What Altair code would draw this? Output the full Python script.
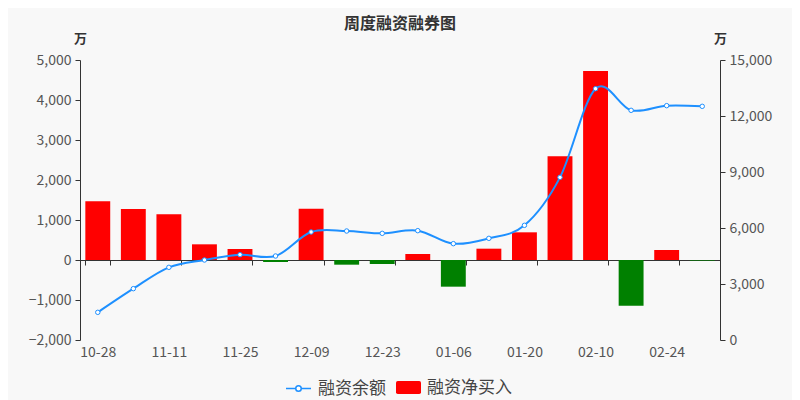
import altair as alt
import pandas as pd

dates = ["10-28", "11-04", "11-11", "11-18", "11-25", "12-02", "12-09", "12-16", "12-23",
         "12-30", "01-06", "01-13", "01-20", "01-27", "02-10", "02-17", "02-24", "03-03"]
net_buy = [1467, 1275, 1142, 392, 275, -50, 1283, -117, -100,
           150, -667, 283, 692, 2592, 4725, -1142, 250, -15]
balance = [1482, 2750, 3893, 4286, 4571, 4500, 5786, 5839, 5714,
           5857, 5161, 5446, 6143, 8714, 13464, 12304, 12554, 12518]
label_dates = dates[::2]
left_ticks = [-2000, -1000, 0, 1000, 2000, 3000, 4000, 5000]
right_ticks = [0, 3000, 6000, 9000, 12000, 15000]

df = pd.DataFrame({"date": dates, "net": net_buy, "bal": balance,
                   "s1": "融资余额", "s2": "融资净买入"})

FONT = "Noto Sans CJK SC"
LABEL = "#555555"
AXIS = "#333333"

x_scale = alt.Scale(domain=dates, paddingInner=0.3, paddingOuter=0.15)
x_axis = alt.Axis(values=label_dates, tickBand="extent", labelAngle=0, offset=-80,
                  labelPadding=80, tickSize=5, domainColor=AXIS, tickColor=AXIS,
                  labelColor=LABEL, labelFont=FONT, labelFontSize=14, title=None, grid=False)

line_sym = "M-1,0L-0.22,0M0.22,0L1,0M-0.22,0A0.22,0.22 0 1 1 0.22,0A0.22,0.22 0 1 1 -0.22,0"
bar_sym = ("M-0.86,-0.52L0.86,-0.52Q1,-0.52 1,-0.38L1,0.38Q1,0.52 0.86,0.52L-0.86,0.52"
           "Q-1,0.52 -1,0.38L-1,-0.38Q-1,-0.52 -0.86,-0.52Z")

base = alt.Chart(df)

bars = base.mark_bar().encode(
    x=alt.X("date:N", scale=x_scale, axis=x_axis),
    y=alt.Y("net:Q", scale=alt.Scale(domain=[-2000, 5000], nice=False),
            axis=alt.Axis(values=left_ticks, format=",d", grid=False, domainColor=AXIS,
                          tickColor=AXIS, tickSize=5, labelColor=LABEL, labelFont=FONT,
                          labelFontSize=14, labelPadding=4,
                          title="万", titleAngle=0, titleX=0, titleY=-22,
                          titleAlign="center", titleBaseline="middle", titleFont=FONT,
                          titleFontSize=13, titleFontWeight="bold", titleColor=AXIS)),
    fill=alt.condition("datum.net < 0", alt.value("#008000"),
                       alt.Fill("s2:N", scale=alt.Scale(domain=["融资净买入"], range=["#ff0000"]),
                                legend=alt.Legend(orient="none", legendX=316, legendY=315,
                                                  title=None, symbolType=bar_sym, symbolSize=625,
                                                  symbolStrokeWidth=0, labelFont=FONT,
                                                  labelFontSize=17, labelColor="#444444",
                                                  labelOffset=6))),
)

line = base.mark_line(interpolate="cardinal", strokeWidth=2,
                      point=alt.OverlayMarkDef(filled=False, fill="white", size=20,
                                               strokeWidth=1, opacity=1)).encode(
    x=alt.X("date:N", scale=x_scale, axis=x_axis),
    y=alt.Y("bal:Q", scale=alt.Scale(domain=[0, 15000], nice=False),
            axis=alt.Axis(orient="right", values=right_ticks, format=",d", grid=False,
                          domainColor=AXIS, tickColor=AXIS, tickSize=5, labelColor=LABEL,
                          labelFont=FONT, labelFontSize=14, labelPadding=4,
                          title="万", titleAngle=0, titleX=0, titleY=-22,
                          titleAlign="center", titleBaseline="middle", titleFont=FONT,
                          titleFontSize=13, titleFontWeight="bold", titleColor=AXIS)),
    stroke=alt.Stroke("s1:N", scale=alt.Scale(domain=["融资余额"], range=["#1e90ff"]),
                      legend=alt.Legend(orient="none", legendX=205, legendY=315, title=None,
                                        symbolType=line_sym, symbolSize=625,
                                        symbolStrokeWidth=1.5, symbolFillColor="white",
                                        labelFont=FONT, labelFontSize=17,
                                        labelColor="#444444", labelOffset=6)),
)

chart = alt.layer(bars, line).resolve_scale(y="independent").properties(
    width=640, height=280,
    title=alt.Title("周度融资融券图", font=FONT, fontSize=16, fontWeight="bold",
                    color="#333333", anchor="middle", offset=0),
    autosize=alt.AutoSizeParams(type="none"),
    padding={"left": 72, "top": 52, "right": 72, "bottom": 60},
).configure(background="#f8f8f8").configure_view(stroke=None)

chart.save("out.html", embed_options={"renderer": "svg", "actions": False})
